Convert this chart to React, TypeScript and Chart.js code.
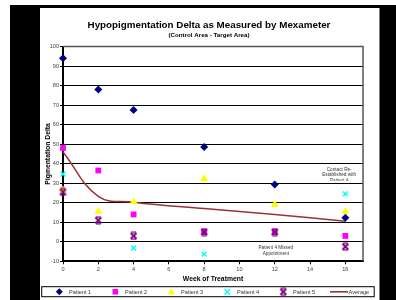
import React, { useEffect, useRef } from 'react';
import { Chart, registerables } from 'chart.js';

Chart.register(...registerables);

const FONT = 'Arial, "Liberation Sans", sans-serif';

const weeks = [0, 2, 4, 8, 12, 16];
const patient1 = [94, 78, 67.5, 48.5, 29.3, 12.3];
const patient2 = [48, 36.5, 14, 5, 5, 3];
const patient3 = [26.5, 15.5, 20.5, 32.3, 19, 15.5];
const patient4 = [34.7, null, -3.2, -6.3, null, 24.5];
const patient5 = [25.5, 11, 3, 5, 5, -2.5];
const average = [46, 23.3, 20.3, 17, 14, 10.5];

const seriesNames = ['Patient 1', 'Patient 2', 'Patient 3', 'Patient 4', 'Patient 5', 'Average'];
const seriesColors = ['#000080', '#FF00FF', '#FFFF00', '#00FFFF', '#800080', '#993333'];

const titleText = 'Hypopigmentation Delta as Measured by Mexameter';
const subtitleText = '(Control Area - Target Area)';
const xTitle = 'Week of Treatment';
const yTitle = 'Pigmentation Delta';

const noteContact = ['Contact Re-', 'Established with', 'Patient 4'];
const noteMissed = ['Patient 4 Missed', 'Appointment'];

function toPoints(values: (number | null)[]) {
  return weeks.map((w, i) => ({ x: w, y: values[i] }));
}

function makeStarMarker(color: string) {
  const c = document.createElement('canvas');
  c.width = 9;
  c.height = 9;
  const g = c.getContext('2d')!;
  g.strokeStyle = color;
  g.lineWidth = 1.8;
  g.beginPath();
  g.moveTo(1.5, 1.5); g.lineTo(7.5, 7.5);
  g.moveTo(7.5, 1.5); g.lineTo(1.5, 7.5);
  g.stroke();
  g.lineWidth = 1.2;
  g.beginPath();
  g.moveTo(2, 1.1); g.lineTo(7, 1.1);
  g.moveTo(2, 7.9); g.lineTo(7, 7.9);
  g.stroke();
  return c;
}

function drawMarker(ctx: CanvasRenderingContext2D, idx: number, x: number, y: number, star: HTMLCanvasElement) {
  const col = seriesColors[idx];
  ctx.save();
  ctx.fillStyle = col;
  ctx.strokeStyle = col;
  ctx.beginPath();
  if (idx === 0) {
    ctx.moveTo(x, y - 3.5); ctx.lineTo(x + 3.5, y); ctx.lineTo(x, y + 3.5); ctx.lineTo(x - 3.5, y);
    ctx.closePath(); ctx.fill();
  } else if (idx === 1) {
    ctx.rect(x - 2.8, y - 2.8, 5.6, 5.6); ctx.fill();
  } else if (idx === 2) {
    ctx.moveTo(x, y - 3.5); ctx.lineTo(x + 3.6, y + 2.6); ctx.lineTo(x - 3.6, y + 2.6);
    ctx.closePath(); ctx.fill();
  } else if (idx === 3) {
    ctx.lineWidth = 1.4;
    ctx.moveTo(x - 2.8, y - 2.8); ctx.lineTo(x + 2.8, y + 2.8);
    ctx.moveTo(x + 2.8, y - 2.8); ctx.lineTo(x - 2.8, y + 2.8);
    ctx.stroke();
  } else if (idx === 4) {
    ctx.drawImage(star, x - 4.5, y - 4.5);
  }
  ctx.restore();
}

export default function App() {
  const ref = useRef<HTMLCanvasElement>(null);

  useEffect(() => {
    document.body.style.margin = '0';
    const canvas = ref.current!;
    const star = makeStarMarker(seriesColors[4]);

    const framePlugin = {
      id: 'frame',
      beforeDraw(chart: any) {
        const { ctx, width, height } = chart;
        ctx.save();
        ctx.fillStyle = '#ffffff';
        ctx.fillRect(0, 0, width, height);
        ctx.fillStyle = '#000000';
        ctx.fillRect(10, 5, width - 10, height - 5);
        ctx.fillStyle = '#ffffff';
        ctx.fillRect(40, 8, 339.5, height - 8);
        ctx.restore();
      },
      beforeDatasetsDraw(chart: any) {
        const { ctx, chartArea: a } = chart;
        ctx.save();
        ctx.strokeStyle = '#555555';
        ctx.lineWidth = 1.5;
        ctx.beginPath();
        ctx.moveTo(a.left, a.top);
        ctx.lineTo(a.right, a.top);
        ctx.lineTo(a.right, a.bottom);
        ctx.stroke();
        ctx.restore();
      },
      afterDraw(chart: any) {
        const { ctx } = chart;
        const xs = chart.scales.x;
        const ys = chart.scales.y;
        ctx.save();
        // annotations
        ctx.font = `4.7px ${FONT}`;
        ctx.fillStyle = '#333333';
        ctx.textAlign = 'center';
        ctx.textBaseline = 'middle';
        const cx1 = xs.getPixelForValue(15.65);
        const cy1 = ys.getPixelForValue(37.1);
        ctx.save();
        ctx.beginPath();
        ctx.rect(cx1 - 30, cy1 - 6, 60, ys.getPixelForValue(31.3) - (cy1 - 6));
        ctx.clip();
        noteContact.forEach((t, i) => ctx.fillText(t, cx1, cy1 + i * 5.8));
        ctx.restore();
        const cx2 = xs.getPixelForValue(12.06);
        const cy2 = ys.getPixelForValue(-3.05);
        noteMissed.forEach((t, i) => ctx.fillText(t, cx2, cy2 + i * 6));

        // legend
        const ly = 291.8;
        ctx.strokeStyle = '#000000';
        ctx.lineWidth = 1;
        ctx.strokeRect(41.7, 286.7, 332.5, 10);
        ctx.font = `5.6px ${FONT}`;
        ctx.fillStyle = '#333333';
        ctx.textAlign = 'left';
        for (let i = 0; i < 5; i++) {
          const mx = 59.3 + i * 56;
          drawMarker(ctx, i, mx, ly, star);
          ctx.fillStyle = '#333333';
          ctx.fillText(seriesNames[i], mx + 9.8, ly + 0.3);
        }
        ctx.strokeStyle = seriesColors[5];
        ctx.lineWidth = 1.6;
        ctx.beginPath();
        ctx.moveTo(330, ly);
        ctx.lineTo(348, ly);
        ctx.stroke();
        ctx.fillStyle = '#333333';
        ctx.fillText(seriesNames[5], 348.5, ly + 0.3);
        ctx.restore();
      },
    };

    const patientData = [patient1, patient2, patient3, patient4, patient5];
    const styles: any[] = ['rectRot', 'rect', 'triangle', 'crossRot', star];
    const radii = [4, 4.1, 4.6, 3.4, 4.5];

    const datasets: any[] = patientData.map((vals, i) => ({
      label: seriesNames[i],
      data: toPoints(vals),
      showLine: false,
      clip: false,
      pointStyle: styles[i],
      pointRadius: radii[i],
      pointBackgroundColor: seriesColors[i],
      pointBorderColor: seriesColors[i],
      pointBorderWidth: i === 3 ? 1.5 : 0,
      borderColor: seriesColors[i],
      backgroundColor: seriesColors[i],
      order: 5 - i,
    }));
    datasets.push({
      label: seriesNames[5],
      data: toPoints(average),
      showLine: true,
      borderColor: seriesColors[5],
      borderWidth: 1.5,
      pointRadius: 0,
      tension: 0.4,
      fill: false,
      order: 10,
    });

    const chart = new Chart(canvas, {
      type: 'line',
      data: { datasets },
      plugins: [framePlugin],
      options: {
        responsive: false,
        animation: false,
        events: [],
        layout: { padding: { top: 8, left: 40, right: 18, bottom: 17 } },
        plugins: {
          legend: { display: false },
          tooltip: { enabled: false },
          title: {
            display: true,
            text: titleText,
            color: '#000000',
            font: { family: FONT, size: 9.8, weight: 'bold', lineHeight: 1.2 },
            padding: { top: 11.1, bottom: 0 },
          },
          subtitle: {
            display: true,
            text: subtitleText,
            color: '#000000',
            font: { family: FONT, size: 6.2, weight: 'bold', lineHeight: 1.2 },
            padding: { top: 0.4, bottom: 7.8 },
          },
        },
        scales: {
          x: {
            type: 'linear',
            min: 0,
            max: 17,
            afterBuildTicks: (s: any) => {
              s.ticks = s.ticks.filter((t: any) => t.value <= 16 && t.value % 2 === 0);
            },
            afterFit: (s: any) => { s.height = 21.7; },
            ticks: { stepSize: 2, color: '#444444', font: { family: FONT, size: 5.6 }, padding: 2, maxRotation: 0, autoSkip: false },
            grid: { drawOnChartArea: false, tickLength: 3, color: '#000000', lineWidth: 1 },
            border: { color: '#000000', width: 2 },
            title: { display: true, text: xTitle, color: '#000000', font: { family: FONT, size: 6.8, weight: 'bold', lineHeight: 1.2 }, padding: { top: 0, bottom: 0 } },
          },
          y: {
            type: 'linear',
            min: -10,
            max: 100,
            afterFit: (s: any) => { s.width = 23; },
            ticks: { stepSize: 10, color: '#444444', font: { family: FONT, size: 5.6 }, padding: 1 },
            grid: { color: '#000000', lineWidth: 1, tickLength: 3 },
            border: { color: '#000000', width: 2 },
            title: { display: true, text: yTitle, color: '#000000', font: { family: FONT, size: 6.8, weight: 'bold', lineHeight: 1.2 }, padding: { top: 3.8, bottom: 0 } },
          },
          y2: {
            type: 'linear',
            position: 'right',
            display: true,
            afterFit: (s: any) => { s.width = 15; },
            ticks: { display: false },
            grid: { display: false, drawTicks: false },
            border: { display: false },
          },
        },
      } as any,
    });

    return () => chart.destroy();
  }, []);

  return <canvas ref={ref} width={396} height={300} style={{ display: 'block', width: 396, height: 300 }} />;
}
